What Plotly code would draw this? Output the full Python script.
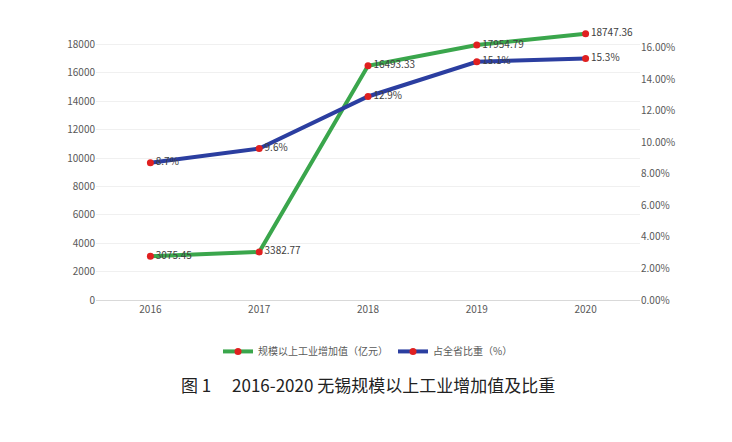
import plotly.graph_objects as go

years = ["2016", "2017", "2018", "2019", "2020"]
value_added = [3075.45, 3382.77, 16493.33, 17954.79, 18747.36]
share_pct = [8.7, 9.6, 12.9, 15.1, 15.3]
value_labels = ["3075.45", "3382.77", "16493.33", "17954.79", "18747.36"]
share_labels = ["8.7%", "9.6%", "12.9%", "15.1%", "15.3%"]

FONT = "Noto Sans CJK SC"

fig = go.Figure()
fig.add_trace(go.Scatter(
    x=years, y=value_added, name="规模以上工业增加值（亿元）",
    mode="lines+markers+text", text=value_labels, textposition="middle right",
    textfont=dict(size=10, color="#404040"), cliponaxis=False,
    line=dict(color="#3aa64c", width=4), marker=dict(color="#e02020", size=7),
))
fig.add_trace(go.Scatter(
    x=years, y=share_pct, name="占全省比重（%）", yaxis="y2",
    mode="lines+markers+text", text=share_labels, textposition="middle right",
    textfont=dict(size=10, color="#404040"), cliponaxis=False,
    line=dict(color="#2b3ea0", width=4), marker=dict(color="#e02020", size=7),
))

fig.update_layout(
    width=732, height=442, paper_bgcolor="white", plot_bgcolor="white",
    font=dict(family=FONT, size=10, color="#595959"),
    margin=dict(l=88, r=100, t=8, b=150),
    xaxis=dict(showgrid=False, showline=True, linecolor="#d9d9d9", ticks="",
               range=[-0.5, 4.5]),
    yaxis=dict(range=[0, 20000], dtick=2000, gridcolor="#f0f0f0", zeroline=False,
               tickformat="d"),
    yaxis2=dict(range=[0, 18], dtick=2, overlaying="y", side="right", showgrid=False,
                ticksuffix=".00%", tickformat=".0f", zeroline=False),
    legend=dict(orientation="h", x=0.5, xanchor="center", y=-0.13, yanchor="top",
                font=dict(size=10, color="#595959")),
    showlegend=True,
)
fig.add_annotation(text="图 1　 2016-2020 无锡规模以上工业增加值及比重",
                   xref="paper", yref="paper", x=0.5, y=-0.245, yanchor="top",
                   showarrow=False, font=dict(family=FONT, size=17, color="#222222"))

fig.write_html("out.html")
